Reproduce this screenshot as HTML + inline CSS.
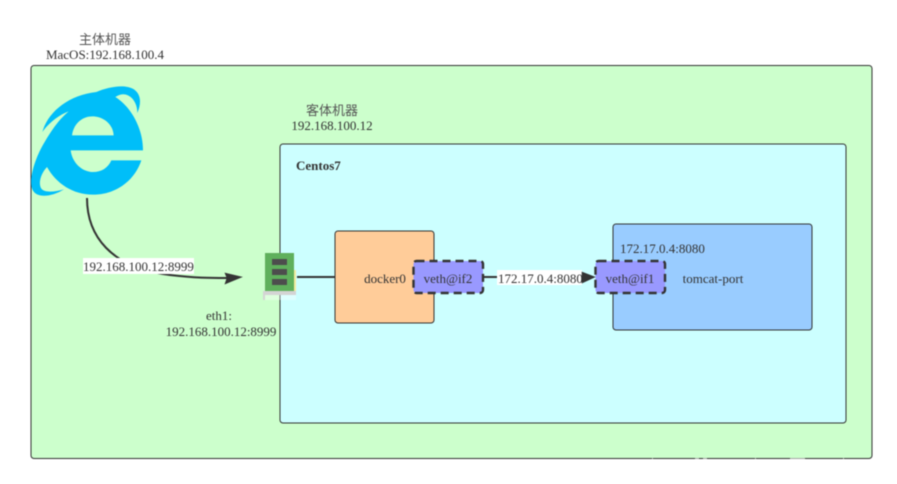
<!DOCTYPE html>
<html>
<head>
<meta charset="utf-8">
<style>
html,body{margin:0;padding:0;background:#fff;width:897px;height:484px;overflow:hidden}
svg{display:block;filter:blur(.4px)}
text{font-family:"Liberation Serif","Noto Sans CJK SC",serif;font-size:13px;fill:#333}
.m{text-anchor:middle}
.c{fill:#555}
</style>
</head>
<body>
<svg width="897" height="484" viewBox="0 0 897 484" xmlns="http://www.w3.org/2000/svg">
<rect x="31" y="65.500" width="841" height="393" rx="3" fill="#ccffcc" stroke="#333" stroke-width="1"/>
<g fill="#fff" opacity=".55">
<rect x="652" y="458" width="1" height="2"/><rect x="695" y="458" width="4" height="2"/><rect x="703" y="458" width="4" height="2"/><rect x="755" y="458" width="1" height="2"/><rect x="790" y="458" width="15" height="2"/><rect x="843" y="458" width="1" height="2"/>
</g>
<rect x="280" y="144" width="566" height="279" rx="3" fill="#ccffff" stroke="#333" stroke-width="1"/>
<text class="m c" x="105" y="44">主体机器</text>
<text class="m" x="105" y="59">MacOS:192.168.100.4</text>
<text class="m c" x="332" y="115">客体机器</text>
<text class="m" x="332" y="130">192.168.100.12</text>
<text x="296" y="170" style="font-weight:bold">Centos7</text>

<!-- browser logo -->
<g transform="translate(28 82) scale(.33333)">
<path fill="#00bef9" fill-rule="evenodd" d="M205 30C240 15 290 5 318 22C340 38 340 65 328 93C328 72 320 50 300 40C285 33 272 38 262 45C310 75 345 140 345 205L128 205C133 245 165 270 195 270C220 270 240 258 250 235L340 235C320 295 265 338 195 338C135 338 85 305 57 255C38 275 30 305 40 320C50 333 80 330 108 322C70 345 25 350 13 322C0 290 25 220 50 180C70 145 95 110 122 88C90 100 60 125 43 150C60 90 120 40 205 30ZM132 160L257 160C255 125 225 103 193 103C160 103 136 128 132 160Z"/>
</g>

<!-- docker0 -->
<rect x="335" y="231" width="99" height="92" rx="3" fill="#ffcc99" stroke="#333" stroke-width="1"/>
<text class="m" x="385" y="283">docker0</text>

<!-- tomcat -->
<rect x="613" y="224" width="199" height="106" rx="3" fill="#99ccff" stroke="#333" stroke-width="1"/>
<text x="620" y="253">172.17.0.4:8080</text>
<text class="m" x="713" y="283">tomcat-port</text>

<!-- connectors -->
<path d="M87 198C87 235 110 268 170 275C195 278 210 278 227 278" fill="none" stroke="#333" stroke-width="2"/>
<path d="M242 277L225 273L227 278L225 284Z" fill="#333" stroke="#333" stroke-width=".6"/>
<rect x="83" y="258" width="111" height="16" fill="#fff"/>
<text x="83" y="271">192.168.100.12:8999</text>

<path d="M297 277H335" fill="none" stroke="#333" stroke-width="2"/>

<path d="M483 277H584" fill="none" stroke="#333" stroke-width="2"/>
<rect x="497" y="270" width="85" height="15" fill="#fff"/>
<path d="M595 277L582 272L582 283Z" fill="#333" stroke="#333" stroke-width=".6"/>
<text x="498" y="283">172.17.0.4:8080</text>

<!-- veth -->
<rect x="413.500" y="261" width="69.500" height="32" rx="3" fill="#9999ff" stroke="#333" stroke-width="2.400" stroke-dasharray="8 5"/>
<text class="m" x="448" y="283">veth@if2</text>
<rect x="595.500" y="261" width="69.500" height="32" rx="3" fill="#9999ff" stroke="#333" stroke-width="2.400" stroke-dasharray="8 5"/>
<text class="m" x="630" y="283">veth@if1</text>

<!-- NIC -->
<rect x="293" y="270" width="3" height="21" fill="#f3eda0"/>
<rect x="263" y="291" width="33" height="4" fill="#d4d4d4"/>
<rect x="263" y="295" width="2" height="5" fill="#d4d4d4"/>
<rect x="265" y="295" width="31" height="5" fill="#fff" opacity=".35"/>
<rect x="265" y="253" width="29" height="38" fill="#5fb05c"/>
<rect x="272" y="259" width="15" height="6" fill="#4d4d4d"/>
<rect x="272" y="269" width="15" height="6" fill="#4d4d4d"/>
<rect x="272" y="279" width="15" height="6" fill="#4d4d4d"/>

<text class="m" x="219" y="320">eth1:</text>
<text class="m" x="221" y="336">192.168.100.12:8999</text>
</svg>
</body>
</html>
